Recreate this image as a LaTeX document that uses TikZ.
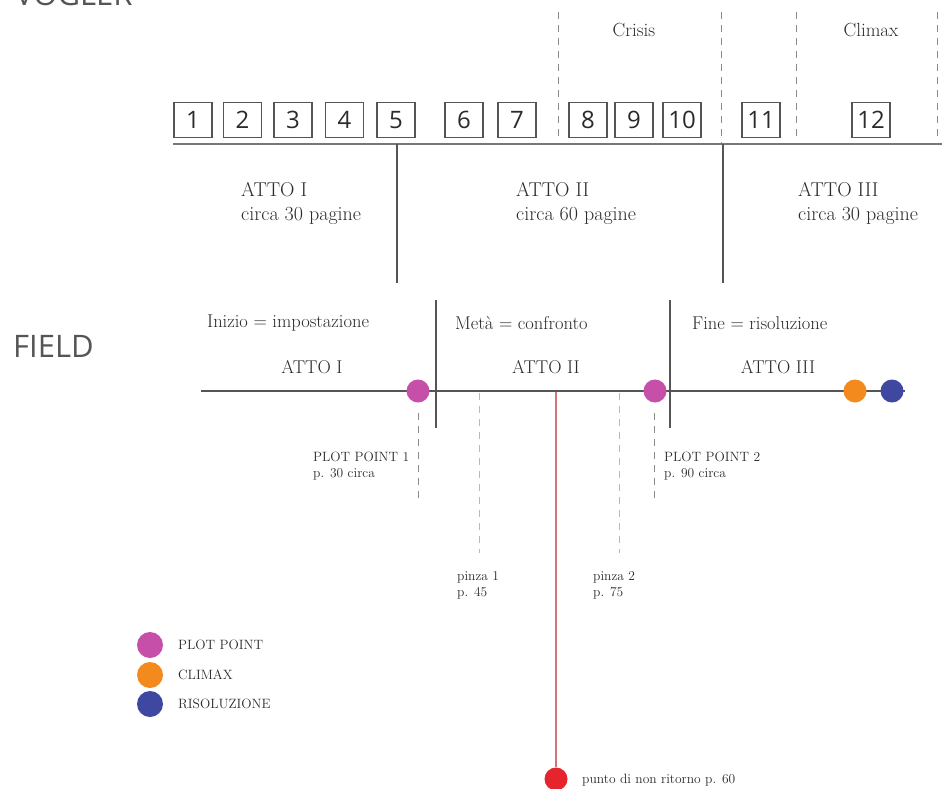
\documentclass[tikz,border=0pt]{standalone}
\usepackage{fontspec}
\newfontfamily\labsans{Open Sans}
\definecolor{txt}{HTML}{2B2B2B}
\definecolor{ln}{HTML}{555555}
\definecolor{dsh}{HTML}{8A8A8A}
\definecolor{dshl}{HTML}{B8BCA8}
\definecolor{mag}{HTML}{C64FA9}
\definecolor{org}{HTML}{F28A1E}
\definecolor{blu}{HTML}{3F48A0}
\definecolor{rd}{HTML}{E5242B}
\definecolor{rdl}{HTML}{D27575}
\begin{document}
\begin{tikzpicture}[x=1pt,y=-1pt,
  numbox/.style={draw=ln,line width=1.1pt,minimum width=38pt,minimum height=35pt,inner sep=0pt,
     font=\labsans\fontsize{24}{24}\selectfont,text=txt},
  bigsans/.style={font=\labsans\fontsize{31}{31}\selectfont,text=ln,inner sep=0pt},
  toptxt/.style={font=\fontsize{20}{24}\selectfont,text=txt,align=left,inner sep=0pt},
  fldtxt/.style={font=\fontsize{18.5}{22}\selectfont,text=txt,inner sep=0pt},
  smalltxt/.style={font=\fontsize{13.5}{16}\selectfont,text=txt,align=left,inner sep=0pt},
  axis/.style={draw=ln,line width=1.2pt},
  divider/.style={draw=ln,line width=1.2pt},
  vdash/.style={draw=dsh,line width=1pt,dash pattern=on 7pt off 6pt},
  ldash/.style={draw=dshl,line width=1pt,dash pattern=on 7pt off 6pt},
  dot/.style={circle,inner sep=0pt,minimum size=23pt},
  ldot/.style={circle,inner sep=0pt,minimum size=26pt}]
\useasboundingbox (0,0) rectangle (942,789);
\fill[white] (0,0) rectangle (942,789);

% side titles
\node[bigsans,anchor=base west] (vog) at (15,6) {VOGLER};
\node[bigsans,anchor=base west] (fld) at (13,357) {FIELD};

% top dashed lines
\coordinate (d1t) at (558,12); \coordinate (d1b) at (558,140);
\coordinate (d2t) at (721,12); \coordinate (d2b) at (721,144);
\coordinate (d3t) at (796,12); \coordinate (d3b) at (796,140);
\coordinate (d4t) at (937,12); \coordinate (d4b) at (937,140);
\draw[vdash] (d1t) -- (d1b);
\draw[vdash] (d2t) -- (d2b);
\draw[vdash] (d3t) -- (d3b);
\draw[vdash] (d4t) -- (d4b);
\node[toptxt,font=\fontsize{19}{22}\selectfont] (crisis) at (634,30) {Crisis};
\node[toptxt,font=\fontsize{19}{22}\selectfont] (climax) at (871,30) {Climax};

% number boxes
\foreach \n/\x in {1/193,2/242.5,3/293,4/344.5,5/396,6/464,7/517,8/588,9/634,10/682,11/761,12/871}
  \node[numbox] (b\n) at (\x,120) {\n};

% top axis
\coordinate (ta) at (173,144); \coordinate (tb) at (942,144);
\draw[axis,line width=1.8pt,draw=ln!80] (ta) -- (tb);
\coordinate (v1t) at (397,144); \coordinate (v1b) at (397,283);
\coordinate (v2t) at (723,144); \coordinate (v2b) at (723,283);
\draw[divider] (v1t) -- (v1b);
\draw[divider] (v2t) -- (v2b);

\node[toptxt,anchor=west] (a1) at (241,203) {ATTO I\\circa 30 pagine};
\node[toptxt,anchor=west] (a2) at (516,203) {ATTO II\\circa 60 pagine};
\node[toptxt,anchor=west] (a3) at (798,203) {ATTO III\\circa 30 pagine};

% field
\node[fldtxt,anchor=west] (f1) at (207,323) {Inizio = impostazione};
\node[fldtxt,anchor=west] (f2) at (455,323) {Metà = confronto};
\node[fldtxt,anchor=west] (f3) at (692,323) {Fine = risoluzione};
\node[fldtxt] (g1) at (312,367) {ATTO I};
\node[fldtxt] (g2) at (546,367) {ATTO II};
\node[fldtxt] (g3) at (778,367) {ATTO III};

\coordinate (fa) at (201,391); \coordinate (fb) at (905,391);
\coordinate (w1t) at (436,300); \coordinate (w1b) at (436,428);
\coordinate (w2t) at (670,300); \coordinate (w2b) at (670,428);

% dashed markers
\coordinate (p1t) at (418,413); \coordinate (p1b) at (418,503);
\coordinate (p2t) at (654,413); \coordinate (p2b) at (654,503);
\coordinate (q1t) at (479,393); \coordinate (q1b) at (479,553);
\coordinate (q2t) at (619,393); \coordinate (q2b) at (619,553);
\draw[vdash] (p1t) -- (p1b);
\draw[vdash] (p2t) -- (p2b);
\draw[ldash] (q1t) -- (q1b);
\draw[ldash] (q2t) -- (q2b);

% red line
\node[dot,fill=rd] (red) at (556,779) {};
\coordinate (rt) at (556,391);
\draw[draw=rdl,line width=1.3pt] (rt) -- (red);

\draw[axis] (fa) -- (fb);
\draw[divider] (w1t) -- (w1b);
\draw[divider] (w2t) -- (w2b);

\node[dot,fill=mag] (pp1) at (418,391) {};
\node[dot,fill=mag] (pp2) at (655,391) {};
\node[dot,fill=org] (cl) at (855,391) {};
\node[dot,fill=blu] (rs) at (892,391) {};

\node[smalltxt,anchor=west] (t1) at (313,466) {PLOT POINT 1\\p. 30 circa};
\node[smalltxt,anchor=west] (t2) at (664,466) {PLOT POINT 2\\p. 90 circa};
\node[smalltxt,anchor=west] (t3) at (457,585) {pinza 1\\p. 45};
\node[smalltxt,anchor=west] (t4) at (593,585) {pinza 2\\p. 75};
\node[smalltxt,anchor=west] (t5) at (582,780) {punto di non ritorno p. 60};

% legend
\node[ldot,fill=mag] (l1) at (150,645) {};
\node[ldot,fill=org] (l2) at (150,675) {};
\node[ldot,fill=blu] (l3) at (150,704) {};
\node[smalltxt,anchor=west] (lt1) at (178,645) {PLOT POINT};
\node[smalltxt,anchor=west] (lt2) at (178,675) {CLIMAX};
\node[smalltxt,anchor=west] (lt3) at (178,704) {RISOLUZIONE};
\end{tikzpicture}
\end{document}
